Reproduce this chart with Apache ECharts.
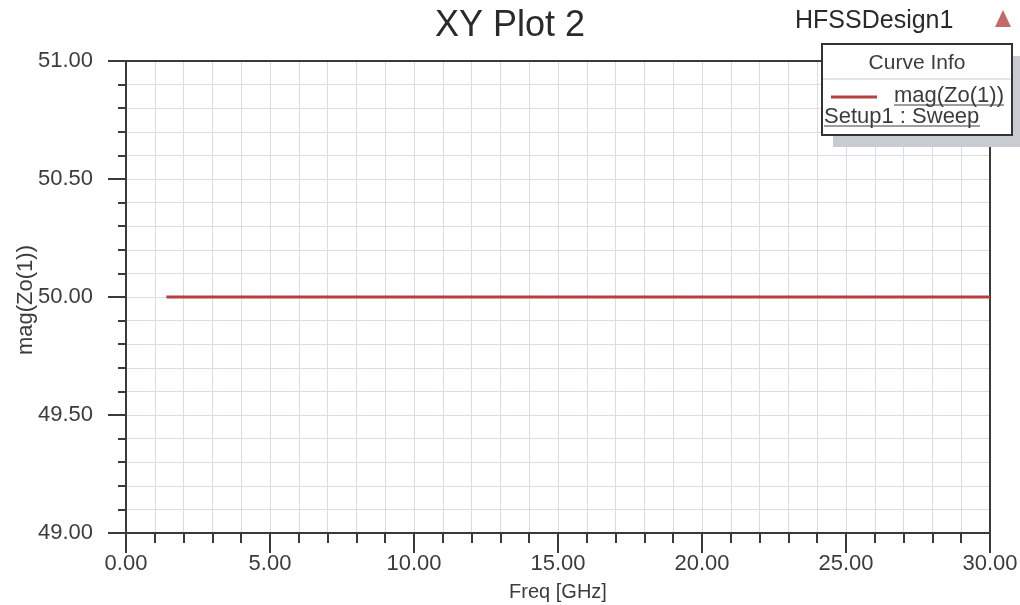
<!DOCTYPE html>
<html>
<head>
<meta charset="utf-8">
<script src="https://cdn.jsdelivr.net/npm/echarts@6/dist/echarts.min.js"></script>
<style>
html,body{margin:0;padding:0;background:#fff;}
#chart{width:1020px;height:605px;}
</style>
</head>
<body>
<div id="chart"></div>
<script>
// ---- data ----
var freqGHz = [1.4, 5, 10, 15, 20, 25, 30];
var magZo = [50.0, 50.0, 50.0, 50.0, 50.0, 50.0, 50.0];
var seriesName = 'mag(Zo(1))';
var sweepName = 'Setup1 : Sweep';
var titleText = 'XY Plot 2';
var designName = 'HFSSDesign1';
var xAxisName = 'Freq [GHz]';
var yAxisName = 'mag(Zo(1))';

var chart = echarts.init(document.getElementById('chart'), null, {renderer: 'canvas'});
var FONT = '"Liberation Sans", Arial, sans-serif';
var TXT = '#3c3c3c';
var GRID = '#d9dce5';
var AX = '#3a3a3a';
var LINE = '#b5403f';

function fmt2(v){ return v.toFixed(2); }
var borderAxis = {
  show: true, axisLine: {show: true, onZero: false, lineStyle: {color: AX, width: 2}},
  axisTick: {show: false}, axisLabel: {show: false}, splitLine: {show: false}
};

var option = {
  backgroundColor: '#fff',
  animation: false,
  title: {
    text: titleText, left: 'center', top: 3,
    textStyle: {fontFamily: FONT, fontSize: 36, fontWeight: 'normal', color: '#2a2a2a'}
  },
  grid: {left: 126, right: 30, top: 61, bottom: 72, show: false, containLabel: false, outerBoundsMode: 'none'},
  xAxis: [{
    type: 'value', min: 0, max: 30, interval: 5,
    name: xAxisName, nameLocation: 'middle', nameGap: 49, nameMoveOverlap: false,
    nameTextStyle: {fontFamily: FONT, fontSize: 20, color: TXT},
    axisLine: {show: true, onZero: false, lineStyle: {color: AX, width: 2}},
    axisTick: {show: true, length: 20, lineStyle: {color: AX, width: 2}},
    minorTick: {show: true, splitNumber: 5, length: 10, lineStyle: {color: AX, width: 2}},
    splitLine: {show: true, lineStyle: {color: GRID, width: 1}},
    minorSplitLine: {show: true, lineStyle: {color: GRID, width: 1}},
    axisLabel: {margin: 20, fontFamily: FONT, fontSize: 22, color: TXT, formatter: fmt2}
  }, Object.assign({type: 'value', min: 0, max: 30, position: 'top'}, borderAxis)],
  yAxis: [{
    type: 'value', min: 49, max: 51, interval: 0.5,
    axisLine: {show: true, onZero: false, lineStyle: {color: AX, width: 2}},
    axisTick: {show: true, length: 18, lineStyle: {color: AX, width: 2}},
    minorTick: {show: true, splitNumber: 5, length: 8, lineStyle: {color: AX, width: 2}},
    splitLine: {show: true, lineStyle: {color: GRID, width: 1}},
    minorSplitLine: {show: true, lineStyle: {color: GRID, width: 1}},
    axisLabel: {margin: 33, fontFamily: FONT, fontSize: 22, color: TXT, formatter: fmt2}
  }, Object.assign({type: 'value', min: 49, max: 51, position: 'right'}, borderAxis)],
  series: [{
    name: seriesName, type: 'line', showSymbol: false, z: 3,
    data: freqGHz.map(function(f, i){ return [f, magZo[i]]; }),
    lineStyle: {color: LINE, width: 3}
  }],
  graphic: [
    {type: 'text', x: 26, y: 300, rotation: Math.PI / 2, style: {text: yAxisName, font: '22px ' + FONT, fill: TXT, align: 'center', verticalAlign: 'middle'}},
    {type: 'text', left: 795, top: 9, style: {text: designName, font: '25px ' + FONT, fill: '#2a2a2a'}},
    {type: 'polygon', shape: {points: [[1003, 10], [995, 27], [1011, 27]]}, style: {fill: '#c46a6a'}},
    // legend box shadow
    {type: 'rect', shape: {x: 833, y: 56, width: 187, height: 91}, style: {fill: '#c8cbd2'}, z: 10},
    {type: 'rect', shape: {x: 822, y: 44, width: 190, height: 91}, style: {fill: '#fff', stroke: '#333', lineWidth: 2}, z: 11},
    {type: 'line', shape: {x1: 823, y1: 79, x2: 1011, y2: 79}, style: {stroke: '#c8ccd4', lineWidth: 1}, z: 12},
    {type: 'text', x: 917, y: 63, style: {text: 'Curve Info', font: '21px ' + FONT, fill: TXT, align: 'center', verticalAlign: 'middle'}, z: 12},
    {type: 'line', shape: {x1: 831, y1: 97, x2: 877, y2: 97}, style: {stroke: LINE, lineWidth: 3}, z: 12},
    {type: 'text', x: 1004, y: 96, style: {text: seriesName, font: '22px ' + FONT, fill: TXT, align: 'right', verticalAlign: 'middle'}, z: 12},
    {type: 'line', shape: {x1: 894, y1: 105, x2: 1004, y2: 105}, style: {stroke: TXT, lineWidth: 1}, z: 12},
    {type: 'text', x: 824, y: 117, style: {text: sweepName, font: '22px ' + FONT, fill: TXT, align: 'left', verticalAlign: 'middle'}, z: 12},
    {type: 'line', shape: {x1: 824, y1: 126, x2: 980, y2: 126}, style: {stroke: TXT, lineWidth: 1}, z: 12}
  ]
};
chart.setOption(option);
</script>
</body>
</html>
